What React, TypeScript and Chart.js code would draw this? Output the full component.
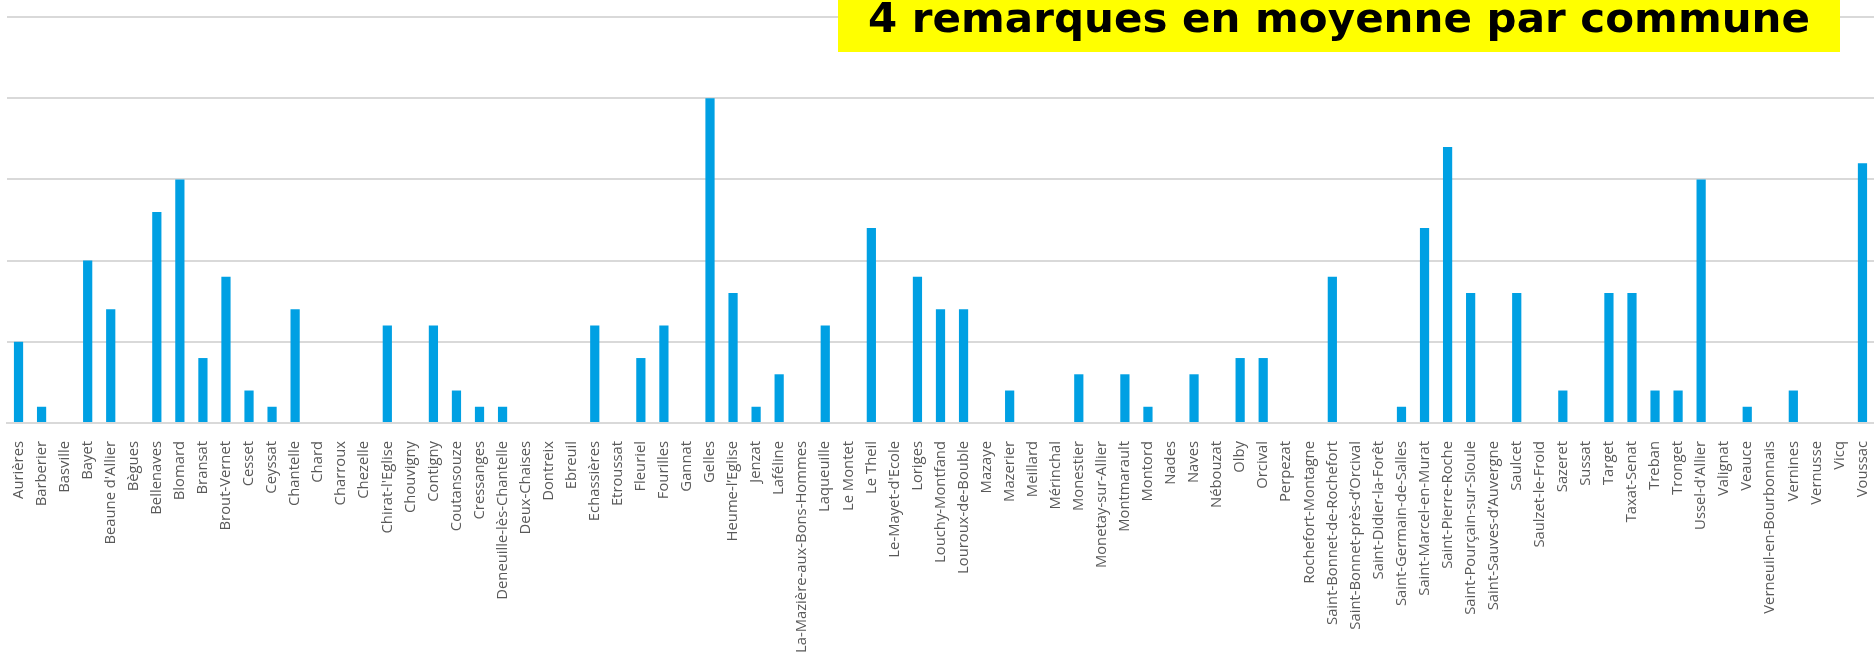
import React, { useEffect, useRef } from "react";
import { Chart, registerables } from "chart.js";

Chart.register(...registerables);

const communes: string[] = [
  "Aurières", "Barberier", "Basville", "Bayet", "Beaune d'Allier", "Bègues", "Bellenaves", "Blomard",
  "Bransat", "Brout-Vernet", "Cesset", "Ceyssat", "Chantelle", "Chard", "Charroux", "Chezelle",
  "Chirat-l'Eglise", "Chouvigny", "Contigny", "Coutansouze", "Cressanges", "Deneuille-lès-Chantelle",
  "Deux-Chaises", "Dontreix", "Ebreuil", "Echassières", "Etroussat", "Fleuriel", "Fourilles", "Gannat",
  "Gelles", "Heume-l’Eglise", "Jenzat", "Laféline", "La-Mazière-aux-Bons-Hommes", "Laqueuille",
  "Le Montet", "Le Theil", "Le-Mayet-d'Ecole", "Loriges", "Louchy-Montfand", "Louroux-de-Bouble",
  "Mazaye", "Mazerier", "Meillard", "Mérinchal", "Monestier", "Monetay-sur-Allier", "Montmarault",
  "Montord", "Nades", "Naves", "Nébouzat", "Olby", "Orcival", "Perpezat", "Rochefort-Montagne",
  "Saint-Bonnet-de-Rochefort", "Saint-Bonnet-près-d’Orcival", "Saint-Didier-la-Forêt",
  "Saint-Germain-de-Salles", "Saint-Marcel-en-Murat", "Saint-Pierre-Roche", "Saint-Pourçain-sur-Sioule",
  "Saint-Sauves-d’Auvergne", "Saulcet", "Saulzet-le-Froid", "Sazeret", "Sussat", "Target", "Taxat-Senat",
  "Treban", "Tronget", "Ussel-d'Allier", "Valignat", "Veauce", "Verneuil-en-Bourbonnais", "Vernines",
  "Vernusse", "Vicq", "Voussac",
];

const remarques: number[] = [
  5, 1, 0, 10, 7, 0, 13, 15,
  4, 9, 2, 1, 7, 0, 0, 0,
  6, 0, 6, 2, 1, 1,
  0, 0, 0, 6, 0, 4, 6, 0,
  20, 8, 1, 3, 0, 6,
  0, 12, 0, 9, 7, 7,
  0, 2, 0, 0, 3, 0, 3,
  1, 0, 3, 0, 4, 4, 0, 0,
  9, 0, 0,
  1, 12, 17, 8,
  0, 8, 0, 2, 0, 8, 8,
  2, 2, 15, 0, 1, 0, 2,
  0, 0, 16,
];

const yTicks: number[] = [0, 5, 10, 15, 20, 25];
const titleText = "4 remarques en moyenne par commune";

const titlePlugin = {
  id: "titleBox",
  afterDraw(chart: any) {
    const ctx = chart.ctx as CanvasRenderingContext2D;
    ctx.save();
    ctx.fillStyle = "#FFFF00";
    ctx.fillRect(838, 0, 1002, 52);
    ctx.font = "bold 41px 'DejaVu Sans'";
    ctx.fillStyle = "#000000";
    ctx.textBaseline = "alphabetic";
    const w = ctx.measureText(titleText).width;
    const target = 942;
    ctx.translate(868, 32);
    ctx.scale(target / w, 1);
    ctx.fillText(titleText, 0, 0);
    ctx.restore();
  },
};

export default function App() {
  const ref = useRef<HTMLCanvasElement | null>(null);

  useEffect(() => {
    document.body.style.margin = "0";
    if (!ref.current) return;
    const chart = new Chart(ref.current, {
      type: "bar",
      data: {
        labels: communes,
        datasets: [
          {
            data: remarques,
            backgroundColor: "#00A0E3",
            barPercentage: 0.4,
            categoryPercentage: 1,
          },
        ],
      },
      options: {
        animation: false,
        responsive: false,
        devicePixelRatio: 1,
        layout: { padding: { left: 7, top: 17, right: 0, bottom: 0 } },
        plugins: { legend: { display: false }, tooltip: { enabled: false }, title: { display: false } },
        scales: {
          x: {
            grid: { display: false },
            border: { display: true, color: "#D9D9D9", width: 2 },
            ticks: {
              autoSkip: false,
              maxRotation: 90,
              minRotation: 90,
              padding: 10,
              color: "#595959",
              font: { family: "'Open Sans'", size: 14.8 },
            },
            afterFit(scale: any) {
              scale.height = 249;
              scale.paddingLeft = 0;
              scale.paddingRight = 0;
            },
          },
          y: {
            min: yTicks[0],
            max: yTicks[yTicks.length - 1],
            afterBuildTicks(scale: any) {
              scale.ticks = yTicks.map((v) => ({ value: v }));
            },
            ticks: { display: false },
            grid: { color: "#D9D9D9", lineWidth: 2, drawTicks: false },
            border: { display: false },
            afterFit(scale: any) {
              scale.width = 0;
            },
          },
        },
      },
      plugins: [titlePlugin],
    });
    return () => chart.destroy();
  }, []);

  return (
    <div style={{ position: "absolute", left: 0, top: 0, width: 1874, height: 672 }}>
      <canvas ref={ref} width={1874} height={672} style={{ width: 1874, height: 672 }} />
    </div>
  );
}
